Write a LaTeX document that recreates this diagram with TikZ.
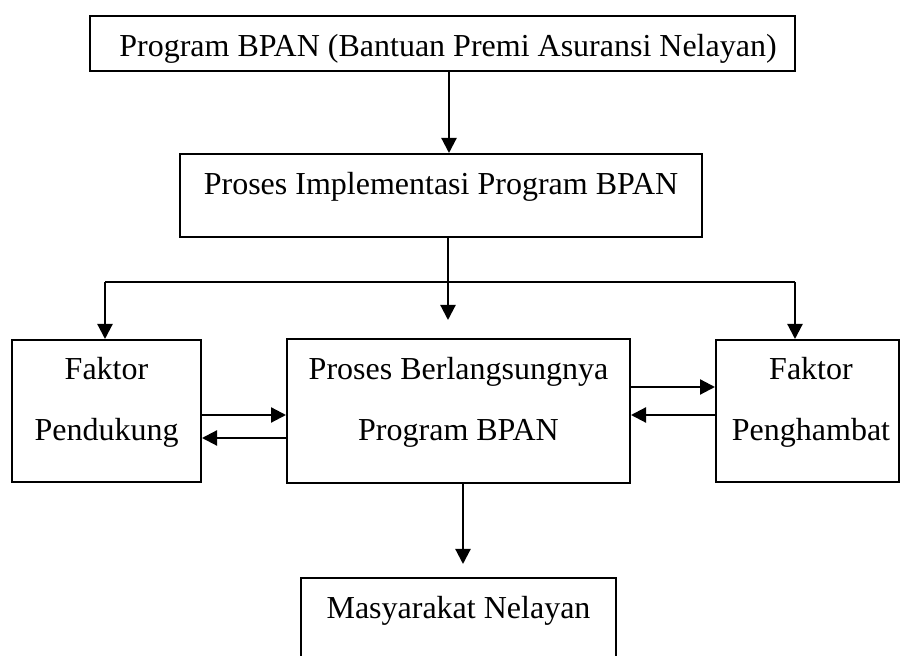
\documentclass[tikz,border=0pt]{standalone}
\usepackage{fontspec}
\setmainfont{Liberation Serif}
\usepackage{tikz}
\usetikzlibrary{arrows.meta,positioning,calc}

\begin{document}
\begin{tikzpicture}[
    x=0.5pt, y=-0.5pt,
    box/.style={draw, line width=1pt, inner sep=0pt},
    txt/.style={anchor=base, inner sep=0pt, font=\fontsize{16}{19}\selectfont},
    arr/.style={-{Triangle[length=7.5pt, width=7.5pt]}, line width=1.1pt},
    lin/.style={line width=0.7pt}
]
\useasboundingbox (0,0) rectangle (911,656);
\clip (0,0) rectangle (911,656);

% Program
\node[box, minimum width=352.5pt, minimum height=27.5pt] (prog) at (442.5,43.5) {};
\node[txt] (prog-t) at (448,57) {Program BPAN (Bantuan Premi Asuransi Nelayan)};

% Implementasi
\node[box, minimum width=261pt, minimum height=41.5pt] (impl) at (441,195.5) {};
\node[txt] (impl-t) at (441,195) {Proses Implementasi Program BPAN};
\draw[arr] (prog.south -| 449,0) -- (impl.north -| 449,0);

% Faktor pendukung
\node[box, minimum width=94.5pt, minimum height=71pt] (dukung) at (106.5,411) {};
\node[txt] (dukung-t1) at (106.5,380) {Faktor};
\node[txt] (dukung-t2) at (106.5,441) {Pendukung};

% Proses berlangsungnya
\node[box, minimum width=171.5pt, minimum height=72pt] (proses) at (458.5,411) {};
\node[txt] (proses-t1) at (458.5,380) {Proses Berlangsungnya};
\node[txt] (proses-t2) at (458.5,441) {Program BPAN};

% Faktor penghambat
\node[box, minimum width=91.5pt, minimum height=71pt] (hambat) at (807.5,411) {};
\node[txt] (hambat-t1) at (811,380) {Faktor};
\node[txt] (hambat-t2) at (811,441) {Penghambat};

% Masyarakat
\node[box, minimum width=157.5pt, minimum height=61pt] (masy) at (458.5,639) {};
\node[txt] (masy-t) at (458.5,619) {Masyarakat Nelayan};

% Cabang
\coordinate (brL) at (105,282);
\coordinate (brR) at (795,282);
\coordinate (tipmid) at (448,320);
\coordinate (tipbot) at (463,564);
\draw[lin] (brL) -- (brR);
\draw[arr] (brL) -- (dukung.north -| brL);
\draw[arr] (brR) -- (hambat.north -| brR);
\draw[arr] (impl.south -| tipmid) -- (tipmid);

% Timbal balik
\draw[arr] (dukung.east |- 0,415) -- (proses.west |- 0,415);
\draw[arr] (proses.west |- 0,438) -- (dukung.east |- 0,438);
\draw[arr] (proses.east |- 0,387) -- (hambat.west |- 0,387);
\draw[arr] (hambat.west |- 0,415) -- (proses.east |- 0,415);

\draw[arr] (proses.south -| tipbot) -- (tipbot);
\end{tikzpicture}
\end{document}
